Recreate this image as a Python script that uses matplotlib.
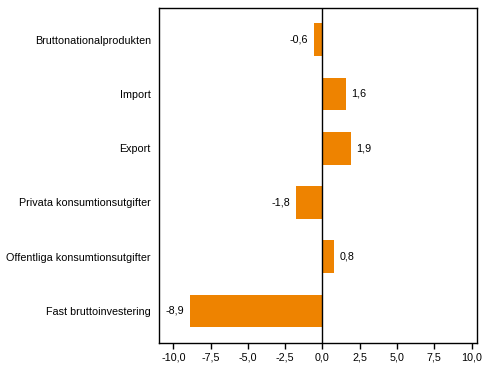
import matplotlib
matplotlib.use("Agg")
import matplotlib.pyplot as plt

categories = ["Bruttonationalprodukten", "Import", "Export",
              "Privata konsumtionsutgifter", "Offentliga konsumtionsutgifter",
              "Fast bruttoinvestering"]
values = [-0.6, 1.6, 1.9, -1.8, 0.8, -8.9]
xticks = [-10, -7.5, -5, -2.5, 0, 2.5, 5, 7.5, 10]

plt.rcParams['font.family'] = ['Liberation Sans', 'DejaVu Sans']
fs = 7.75
fig = plt.figure(figsize=(4.91, 3.78), dpi=100)
ax = fig.add_axes([159.3/491, 1-342.7/378, (477.3-159.3)/491, (342.7-8)/378])

ypos = list(range(len(categories)))[::-1]
ax.barh(ypos, values, height=0.6, color='#EE8300', zorder=2)
ax.axvline(0, color='black', lw=1, zorder=3)
for y, v in zip(ypos, values):
    lab = f"{v:.1f}".replace('.', ',')
    if v >= 0:
        ax.text(v + 0.35, y, lab, ha='left', va='center', fontsize=fs)
    else:
        ax.text(v - 0.35, y, lab, ha='right', va='center', fontsize=fs)

ax.set_xlim(-10.94, 10.38)
ax.set_ylim(-0.585, 5.585)
ax.set_xticks(xticks)
ax.set_xticklabels([f"{t:.1f}".replace('.', ',') for t in xticks], fontsize=fs)
ax.set_yticks(ypos)
ax.set_yticklabels(categories, fontsize=fs)
ax.tick_params(axis='y', length=0, pad=6)
ax.tick_params(axis='x', length=4, width=1, direction='out', pad=3)
for s in ax.spines.values():
    s.set_linewidth(1)
fig.savefig("out.png", dpi=100)
